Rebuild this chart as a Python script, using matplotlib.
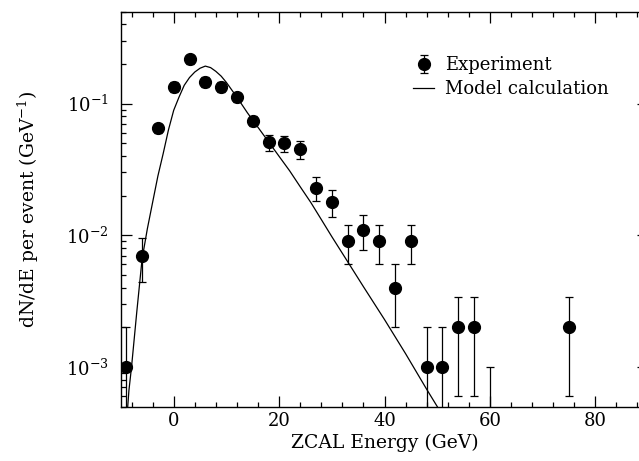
import matplotlib
matplotlib.use("Agg")
import matplotlib.pyplot as plt
from matplotlib.ticker import MultipleLocator, LogLocator, NullFormatter
from matplotlib.lines import Line2D

plt.rcParams["font.family"] = ["DejaVu Serif"]
plt.rcParams["mathtext.fontset"] = "dejavuserif"

# Measured spectrum (ZCAL energy bins, GeV) with statistical errors
energy = [-9, -6, -3, 0, 3, 6, 9, 12, 15, 18, 21, 24, 27, 30, 33, 36, 39,
          42, 45, 48, 51, 54, 57, 60, 75]
dnde = [0.001, 0.007, 0.065, 0.134, 0.217, 0.147, 0.134, 0.112, 0.074,
        0.051, 0.050, 0.045, 0.023, 0.018, 0.009, 0.011, 0.009, 0.004,
        0.009, 0.001, 0.001, 0.002, 0.002, 0.0, 0.002]
err_lo = [0.001, 0.0026, 0.005, 0.011, 0.015, 0.012, 0.011, 0.009, 0.0065,
          0.0071, 0.0071, 0.0067, 0.0048, 0.0042, 0.003, 0.0033, 0.003,
          0.002, 0.003, 0.001, 0.001, 0.0014, 0.0014, 0.0, 0.0014]
err_hi = [0.001, 0.0026, 0.005, 0.011, 0.015, 0.012, 0.011, 0.009, 0.0065,
          0.0071, 0.0071, 0.0067, 0.0048, 0.0042, 0.003, 0.0033, 0.003,
          0.002, 0.003, 0.001, 0.001, 0.0014, 0.0014, 0.001, 0.0014]

# Model calculation
model_e = [-9.0, -8.5, -8.0, -7.0, -6.0, -5.0, -4.0, -3.0, -2.0, -1.0, 0.0,
           1.0, 2.0, 3.0, 4.0, 5.0, 6.0, 7.0, 8.0, 9.0, 10.0, 12.0, 14.0,
           16.0, 18.0, 20.0, 22.0, 24.0, 26.0, 28.0, 30.0, 33.0, 36.0, 40.0,
           44.0, 48.0, 50.0, 52.0]
model_y = [3.55e-4, 6.6e-4, 1.0e-3, 2.63e-3, 6.6e-3, 0.0112, 0.0178, 0.0282,
           0.0417, 0.0631, 0.0891, 0.112, 0.138, 0.158, 0.174, 0.186, 0.193,
           0.188, 0.176, 0.162, 0.145, 0.112, 0.0851, 0.0661, 0.0513, 0.0398,
           0.0309, 0.0234, 0.0178, 0.0132, 0.00977, 0.00631, 0.00407,
           0.00229, 0.00126, 6.76e-4, 5.0e-4, 3.7e-4]

W, H = 639, 461
fig = plt.figure(figsize=(W / 100, H / 100), dpi=100)
ax = fig.add_axes([121 / W, 54.5 / H, (648 - 121) / W, (449.3 - 54.5) / H])

ax.set_yscale("log")
ax.set_xlim(-10, 90)
ax.set_ylim(5e-4, 0.5)

model_line, = ax.plot(model_e, model_y, color="black", lw=0.9)
data_bars = ax.errorbar(energy, dnde, yerr=[err_lo, err_hi], fmt="o",
                        color="black", markersize=8.5, elinewidth=0.9,
                        capsize=3.2, capthick=0.9)

ax.xaxis.set_major_locator(MultipleLocator(20))
ax.xaxis.set_minor_locator(MultipleLocator(4))
ax.yaxis.set_major_locator(LogLocator(base=10, numticks=10))
ax.yaxis.set_minor_locator(LogLocator(base=10, subs=range(2, 10), numticks=20))
ax.yaxis.set_minor_formatter(NullFormatter())

ax.tick_params(which="both", direction="in", top=True, right=True,
               labelsize=13, width=0.9)
ax.tick_params(which="major", length=8)
ax.tick_params(which="minor", length=3.5)
ax.tick_params(axis="x", which="major", pad=4)
ax.tick_params(axis="y", which="major", pad=9)
for s in ax.spines.values():
    s.set_linewidth(1.0)

ax.set_xlabel("ZCAL Energy (GeV)", fontsize=13.5, labelpad=3)
ax.set_ylabel("dN/dE per event (GeV$^{-1}$)", fontsize=13.5, labelpad=18)

ax.legend([data_bars, model_line], ["Experiment", "Model calculation"],
          loc="upper left", bbox_to_anchor=(0.54, 0.905),
          frameon=False, fontsize=13, handlelength=1.2,
          handletextpad=0.6, labelspacing=0.3, borderaxespad=0)

fig.savefig("out.png", dpi=100)
